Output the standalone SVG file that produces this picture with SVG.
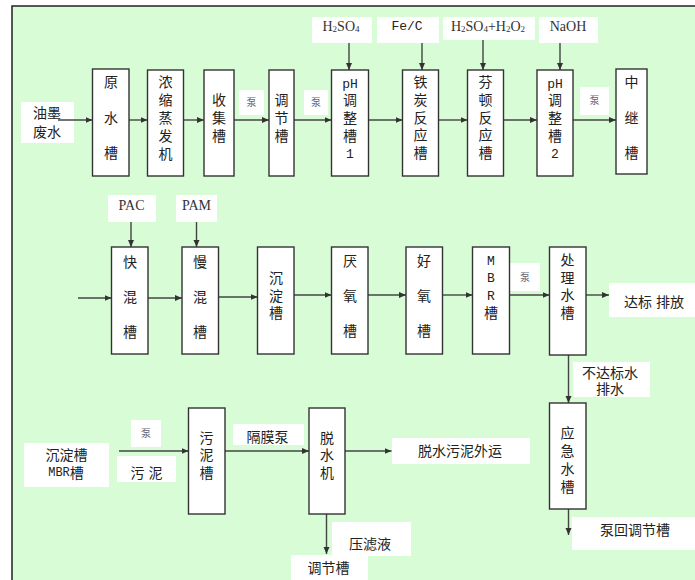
<svg xmlns="http://www.w3.org/2000/svg" width="695" height="580" viewBox="0 0 695 580">
<defs>
<marker id="ah" markerWidth="8" markerHeight="8" refX="7" refY="4" orient="auto" markerUnits="userSpaceOnUse">
<path d="M0,1 L7,4 L0,7 Z" fill="#333"/>
</marker>
<style>
.bg{fill:#d8fdd6;stroke:#222;stroke-width:1.5}
.box{fill:#fff;stroke:#333;stroke-width:1.4}
.lbl{fill:#fff;stroke:none}
.t{font-family:"Liberation Sans","Noto Sans CJK SC",sans-serif;font-size:14px;fill:#222;text-anchor:middle;dominant-baseline:central}
.m{font-family:"Liberation Mono","DejaVu Sans Mono",monospace;font-size:13px}
.c{font-family:"Liberation Serif",serif;font-size:14px;fill:#333;text-anchor:middle;dominant-baseline:central}
.mono{font-family:"Liberation Mono","DejaVu Sans Mono",monospace;font-size:13px;fill:#222;text-anchor:middle;dominant-baseline:central}
.p{font-family:"Liberation Sans","Noto Sans CJK SC",sans-serif;font-size:10px;fill:#667;text-anchor:middle;dominant-baseline:central}
.ln{stroke:#444;stroke-width:1.4;fill:none;marker-end:url(#ah)}
</style>
</defs>
<rect class="bg" x="12" y="6" width="700" height="590"/>

<!-- labels (white tags) -->
<g id="labels">
<g id="lbl-inkwater"><rect class="lbl" x="21" y="102" width="53" height="41"/><text class="t"><tspan x="47" y="113">油墨</tspan><tspan x="47" y="132">废水</tspan></text></g>
<g id="lbl-pump1"><rect class="lbl" x="239" y="90" width="25" height="25"/><text class="p" x="251.5" y="102.5">泵</text></g>
<g id="lbl-pump2"><rect class="lbl" x="304" y="90" width="24" height="25"/><text class="p" x="316" y="102.5">泵</text></g>
<g id="lbl-pump3"><rect class="lbl" x="580" y="87" width="29" height="28"/><text class="p" x="594.5" y="100">泵</text></g>
<g id="lbl-h2so4"><rect class="lbl" x="312" y="17" width="60" height="26"/><text class="c" x="341" y="26">H<tspan font-size="9" dy="3">2</tspan><tspan dy="-3">SO</tspan><tspan font-size="9" dy="3">4</tspan></text></g>
<g id="lbl-fec"><rect class="lbl" x="377" y="17" width="62" height="26"/><text class="mono" x="407" y="26">Fe/C</text></g>
<g id="lbl-fenton"><rect class="lbl" x="443" y="17" width="92" height="23"/><text class="c" x="488" y="26">H<tspan font-size="9" dy="3">2</tspan><tspan dy="-3">SO</tspan><tspan font-size="9" dy="3">4</tspan><tspan dy="-3">+H</tspan><tspan font-size="9" dy="3">2</tspan><tspan dy="-3">O</tspan><tspan font-size="9" dy="3">2</tspan></text></g>
<g id="lbl-naoh"><rect class="lbl" x="539" y="17" width="59" height="26"/><text class="c" x="568" y="26">NaOH</text></g>
<g id="lbl-pac"><rect class="lbl" x="108" y="195" width="48" height="27"/><text class="c" x="131.5" y="205">PAC</text></g>
<g id="lbl-pam"><rect class="lbl" x="176" y="195" width="41" height="27"/><text class="c" x="196.5" y="205">PAM</text></g>
<g id="lbl-pump4"><rect class="lbl" x="510" y="263" width="30" height="28"/><text class="p" x="525" y="277">泵</text></g>
<g id="lbl-discharge"><rect class="lbl" x="609" y="283" width="90" height="34"/><text class="t" x="654" y="302">达标 排放</text></g>
<g id="lbl-substd"><rect class="lbl" x="573" y="362" width="77" height="35"/><text class="t"><tspan x="610" y="373">不达标水</tspan><tspan x="610" y="389">排水</tspan></text></g>
<g id="lbl-return"><rect class="lbl" x="572" y="517" width="130" height="33"/><text class="t" x="635" y="530">泵回调节槽</text></g>
<g id="lbl-sludgesrc"><rect class="lbl" x="24" y="443" width="85" height="44"/><text class="t"><tspan x="66.5" y="455">沉淀槽</tspan><tspan x="66" y="473"><tspan font-family="Liberation Mono,monospace" font-size="12">MBR</tspan>槽</tspan></text></g>
<g id="lbl-pump5"><rect class="lbl" x="131" y="420" width="30" height="27"/><text class="p" x="146" y="433">泵</text></g>
<g id="lbl-sludge"><rect class="lbl" x="117" y="456" width="59" height="26"/><text class="t" x="146.5" y="473">污 泥</text></g>
<g id="lbl-diaphragm"><rect class="lbl" x="233" y="424" width="71" height="21"/><text class="t" x="267.5" y="437">隔膜泵</text></g>
<g id="lbl-out"><rect class="lbl" x="392" y="438" width="138" height="26"/><text class="t" x="460" y="451">脱水污泥外运</text></g>
<g id="lbl-filtrate"><rect class="lbl" x="332" y="522" width="79" height="34"/><text class="t" x="370" y="544">压滤液</text></g>
<g id="lbl-adjust"><rect class="lbl" x="291" y="555" width="77" height="30"/><text class="t" x="328.5" y="568">调节槽</text></g>
</g>

<!-- connectors -->
<g id="connectors">
<line class="ln" x1="58" y1="120" x2="92.5" y2="120"/>
<line class="ln" x1="129" y1="120" x2="147.5" y2="120"/>
<line class="ln" x1="184" y1="120" x2="204" y2="120"/>
<line class="ln" x1="234" y1="120" x2="269" y2="120"/>
<line class="ln" x1="294" y1="120" x2="331.5" y2="120"/>
<line class="ln" x1="368.5" y1="120" x2="402.5" y2="120"/>
<line class="ln" x1="439" y1="120" x2="467.5" y2="120"/>
<line class="ln" x1="504" y1="120" x2="537" y2="120"/>
<line class="ln" x1="573" y1="120" x2="616" y2="120"/>
<line class="ln" x1="349" y1="43" x2="349" y2="70"/>
<line class="ln" x1="422" y1="43" x2="422" y2="70"/>
<line class="ln" x1="483" y1="40" x2="483" y2="70"/>
<line class="ln" x1="560" y1="43" x2="560" y2="70"/>
<line class="ln" x1="78" y1="298" x2="111.5" y2="298"/>
<line class="ln" x1="148" y1="298" x2="182" y2="298"/>
<line class="ln" x1="218.5" y1="297" x2="257.5" y2="297"/>
<line class="ln" x1="294" y1="295" x2="331.5" y2="295"/>
<line class="ln" x1="368" y1="295" x2="406" y2="295"/>
<line class="ln" x1="442.5" y1="295" x2="472.5" y2="295"/>
<line class="ln" x1="509.5" y1="295" x2="549.5" y2="295"/>
<line class="ln" x1="586" y1="295" x2="609" y2="295"/>
<line class="ln" x1="131" y1="222" x2="131" y2="247"/>
<line class="ln" x1="196.5" y1="222" x2="196.5" y2="247"/>
<line class="ln" x1="568.5" y1="355" x2="568.5" y2="403"/>
<line class="ln" x1="568.5" y1="509" x2="568.5" y2="535"/>
<line class="ln" x1="119" y1="451" x2="188.5" y2="451"/>
<line class="ln" x1="225" y1="451" x2="309" y2="451"/>
<line class="ln" x1="345" y1="451" x2="391.5" y2="451"/>
<line class="ln" x1="326.5" y1="514" x2="326.5" y2="554"/>
</g>

<!-- row 1 nodes -->
<g id="n-raw"><rect class="box" x="92.5" y="69" width="36.5" height="107"/><text class="t"><tspan x="111" y="82">原</tspan><tspan x="111" y="118">水</tspan><tspan x="111" y="153">槽</tspan></text></g>
<g id="n-evap"><rect class="box" x="147.5" y="70" width="36" height="106"/><text class="t"><tspan x="165.5" y="82">浓</tspan><tspan x="165.5" y="100">缩</tspan><tspan x="165.5" y="118">蒸</tspan><tspan x="165.5" y="136">发</tspan><tspan x="165.5" y="154">机</tspan></text></g>
<g id="n-collect"><rect class="box" x="204" y="70" width="30" height="106"/><text class="t"><tspan x="219" y="100">收</tspan><tspan x="219" y="118">集</tspan><tspan x="219" y="136">槽</tspan></text></g>
<g id="n-adjust"><rect class="box" x="269" y="70" width="25" height="106"/><text class="t"><tspan x="281.5" y="100">调</tspan><tspan x="281.5" y="118">节</tspan><tspan x="281.5" y="136">槽</tspan></text></g>
<g id="n-ph1"><rect class="box" x="331.5" y="70" width="37" height="106"/><text class="t"><tspan class="m" x="350" y="84">pH</tspan><tspan x="350" y="100">调</tspan><tspan x="350" y="118">整</tspan><tspan x="350" y="136">槽</tspan><tspan class="m" x="350" y="154">1</tspan></text></g>
<g id="n-fec"><rect class="box" x="402.5" y="70" width="36" height="106"/><text class="t"><tspan x="420.5" y="82">铁</tspan><tspan x="420.5" y="100">炭</tspan><tspan x="420.5" y="118">反</tspan><tspan x="420.5" y="135">应</tspan><tspan x="420.5" y="153">槽</tspan></text></g>
<g id="n-fenton"><rect class="box" x="467.5" y="70" width="36" height="106"/><text class="t"><tspan x="485.5" y="82">芬</tspan><tspan x="485.5" y="100">顿</tspan><tspan x="485.5" y="118">反</tspan><tspan x="485.5" y="135">应</tspan><tspan x="485.5" y="153">槽</tspan></text></g>
<g id="n-ph2"><rect class="box" x="537" y="70" width="36" height="106"/><text class="t"><tspan class="m" x="555" y="84">pH</tspan><tspan x="555" y="100">调</tspan><tspan x="555" y="118">整</tspan><tspan x="555" y="136">槽</tspan><tspan class="m" x="555" y="154">2</tspan></text></g>
<g id="n-relay"><rect class="box" x="616" y="69" width="31" height="105"/><text class="t"><tspan x="631.5" y="82">中</tspan><tspan x="631.5" y="118">继</tspan><tspan x="631.5" y="153">槽</tspan></text></g>

<!-- row 2 nodes -->
<g id="n-fastmix"><rect class="box" x="111.5" y="247" width="36.5" height="107"/><text class="t"><tspan x="130" y="262">快</tspan><tspan x="130" y="297">混</tspan><tspan x="130" y="332">槽</tspan></text></g>
<g id="n-slowmix"><rect class="box" x="182" y="247" width="36.5" height="107"/><text class="t"><tspan x="200" y="262">慢</tspan><tspan x="200" y="297">混</tspan><tspan x="200" y="332">槽</tspan></text></g>
<g id="n-settle"><rect class="box" x="257.5" y="247" width="36.5" height="107"/><text class="t"><tspan x="276" y="278">沉</tspan><tspan x="276" y="296">淀</tspan><tspan x="276" y="313">槽</tspan></text></g>
<g id="n-anaer"><rect class="box" x="331.5" y="247" width="36.5" height="107"/><text class="t"><tspan x="350" y="261">厌</tspan><tspan x="350" y="296">氧</tspan><tspan x="350" y="331">槽</tspan></text></g>
<g id="n-aer"><rect class="box" x="406" y="247" width="36.5" height="107"/><text class="t"><tspan x="424" y="261">好</tspan><tspan x="424" y="296">氧</tspan><tspan x="424" y="331">槽</tspan></text></g>
<g id="n-mbr"><rect class="box" x="472.5" y="247" width="37" height="107"/><text class="t"><tspan class="m" font-size="12" x="491" y="261">M</tspan><tspan class="m" font-size="12" x="491" y="278">B</tspan><tspan class="m" font-size="12" x="491" y="296">R</tspan><tspan x="491" y="313">槽</tspan></text></g>
<g id="n-treated"><rect class="box" x="549.5" y="247" width="36.5" height="108"/><text class="t"><tspan x="567.5" y="260">处</tspan><tspan x="567.5" y="278">理</tspan><tspan x="567.5" y="295">水</tspan><tspan x="567.5" y="313">槽</tspan></text></g>
<g id="n-emerg"><rect class="box" x="549.5" y="403" width="36.5" height="106"/><text class="t"><tspan x="567.5" y="433">应</tspan><tspan x="567.5" y="451">急</tspan><tspan x="567.5" y="469">水</tspan><tspan x="567.5" y="487">槽</tspan></text></g>

<!-- row 3 nodes -->
<g id="n-sludgetank"><rect class="box" x="188.5" y="408" width="36.5" height="106"/><text class="t"><tspan x="206.5" y="438">污</tspan><tspan x="206.5" y="455">泥</tspan><tspan x="206.5" y="473">槽</tspan></text></g>
<g id="n-dewater"><rect class="box" x="309" y="408" width="36" height="106"/><text class="t"><tspan x="327" y="438">脱</tspan><tspan x="327" y="455">水</tspan><tspan x="327" y="473">机</tspan></text></g>
</svg>
